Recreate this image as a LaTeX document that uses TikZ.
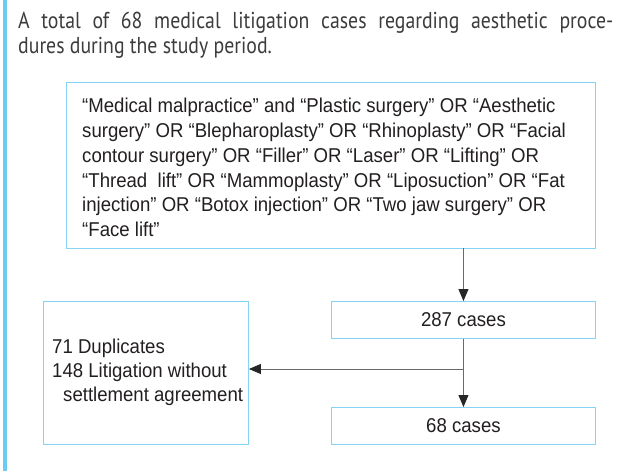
\documentclass[tikz,border=0pt]{standalone}
\usepackage{fontspec}
\setmainfont[FakeStretch=0.93]{Liberation Sans}
\newfontfamily\titlefont[FakeStretch=0.86]{PT Sans}
\usetikzlibrary{arrows.meta}
\definecolor{skyline}{HTML}{86D4F3}
\definecolor{sidebar}{HTML}{6CCBF1}
\definecolor{txt}{HTML}{231F20}
\definecolor{ttl}{HTML}{3C3C3C}
\definecolor{conn}{HTML}{6A6A6A}
\begin{document}
\begin{tikzpicture}[x=1pt,y=-1pt,
  boxstyle/.style={draw=skyline, line width=0.9pt, inner sep=0pt, text=txt,
    font=\fontsize{20}{25}\selectfont},
  boxtext/.style={inner sep=0pt, text=txt, anchor=base west},
  titletext/.style={anchor=base west, inner sep=0pt, text=ttl,
    font=\titlefont\fontsize{23}{26}\selectfont},
  arr/.style={draw=conn, line width=0.9pt,
    -{Triangle[length=12pt,width=10pt,fill=black!85,color=black!85]}}]
\useasboundingbox (0,0) rectangle (622,471);
\fill[white] (0,0) rectangle (622,471);
\fill[sidebar] (3,0) rectangle (6.5,471);
% title
\node[titletext] (t1) at (18,28)
  {\makebox[595pt][s]{A total of 68 medical litigation cases regarding aesthetic proce-}};
\node[titletext] (t2) at (18,53) {dures during the study period.};
% search box
\node[boxstyle, anchor=north west, minimum width=529pt, minimum height=166pt] (search) at (66,81.5) {};
\node[boxtext] (searchtext) at (82,112)
  {\fontsize{20}{25}\selectfont\parbox[t]{505pt}{\raggedright
   “Medical malpractice” and “Plastic surgery” OR “Aesthetic\\
   surgery” OR “Blepharoplasty” OR “Rhinoplasty” OR “Facial\\
   contour surgery” OR “Filler” OR “Laser” OR “Lifting” OR\\
   “Thread\ \ lift” OR “Mammoplasty” OR “Liposuction” OR “Fat\\
   injection” OR “Botox injection” OR “Two jaw surgery” OR\\
   “Face lift”}};
% result boxes
\node[boxstyle, anchor=north west, minimum width=264pt, minimum height=37pt] (c287) at (331,301) {287 cases};
\node[boxstyle, anchor=north west, minimum width=264pt, minimum height=37pt] (c68) at (331,407) {68 cases};
\node[boxstyle, anchor=north west, minimum width=205pt, minimum height=143pt] (excl) at (43,301) {};
\node[boxtext] (excltext) at (52,353)
  {\fontsize{20}{24}\selectfont\parbox[t]{195pt}{\raggedright
   71 Duplicates\\148 Litigation without\\\hspace*{11pt}settlement agreement}};
% connectors
\draw[arr] (c287.north |- search.south) -- (c287.north);
\draw[arr] (c287.south) -- (c68.north);
\coordinate (j) at (c287.south |- 0,369);
\draw[arr] (j) -- (j -| excl.east);
\end{tikzpicture}
\end{document}
